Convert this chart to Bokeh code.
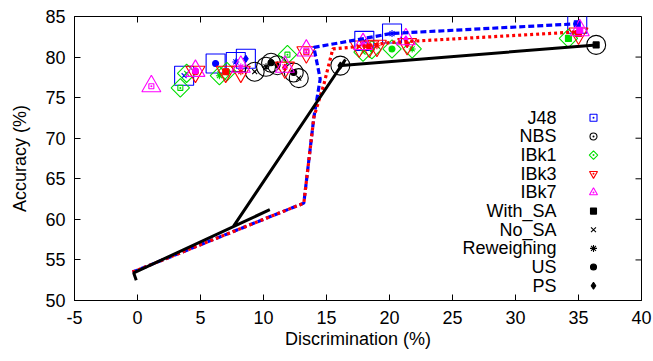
import math
from bokeh.plotting import figure
from bokeh.models import Range1d, FixedTicker
from bokeh.core.properties import value
from bokeh.embed import file_html
from bokeh.resources import INLINE

FONT = "Liberation Sans"

x_ticks = [-5, 0, 5, 10, 15, 20, 25, 30, 35, 40]
y_ticks = [50, 55, 60, 65, 70, 75, 80, 85]

# Trade-off curves (discrimination %, accuracy %)
nbs_curve_x = [-0.1, -0.3, 10.5, 7.6, 16.5, 16.2, 36.4]
nbs_curve_y = [52.5, 53.4, 61.2, 59.1, 79.7, 78.95, 81.5]
j48_curve_x = [-0.4, 13.2, 14.0, 14.5, 14.0, 17.3, 20.1, 34.9]
j48_curve_y = [53.5, 62.0, 72.6, 77.3, 81.2, 82.1, 82.9, 84.1]
ibk3_curve_x = [-0.4, 13.2, 14.0, 14.8, 15.5, 18.2, 20.1, 34.9]
ibk3_curve_y = [53.5, 62.0, 72.6, 76.7, 81.0, 81.4, 81.8, 83.1]

# Per-classifier results; tag = data handling method
j48_x = [3.7, 6.2, 7.8, 8.6, 18.0, 20.2, 34.9]
j48_y = [77.7, 79.2, 79.4, 79.8, 82.0, 82.9, 84.1]
j48_m = ["no", "us", "rw", "ps", "no", "rw", "sa"]

nbs_x = [9.3, 10.2, 10.6, 11.1, 12.4, 12.8, 16.1, 36.4]
nbs_y = [78.2, 78.8, 79.3, 79.0, 78.1, 77.4, 78.95, 81.5]
nbs_m = ["no", "rw", "us", "ps", "us", "no", "ps", "sa"]

ibk1_x = [3.4, 3.9, 6.5, 7.1, 11.9, 17.9, 18.6, 20.2, 21.8, 34.2]
ibk1_y = [76.2, 78.0, 77.7, 78.2, 80.3, 80.6, 80.9, 81.0, 81.0, 82.3]
ibk1_m = ["sq", "no", "rw", "us", "sq", "no", "ps", "us", "rw", "sa"]

ibk3_x = [4.6, 7.0, 8.2, 11.7, 13.4, 17.6, 18.4, 19.0, 21.4, 35.0]
ibk3_y = [78.2, 78.2, 78.2, 78.7, 80.6, 81.3, 81.3, 81.4, 81.6, 82.9]
ibk3_m = ["us", "sa", "rw", "ps", "sq", "no", "us", "rw", "ps", "sa"]

ibk7_x = [1.1, 4.6, 8.2, 11.7, 13.4, 17.9, 21.3, 35.1]
ibk7_y = [76.4, 78.3, 78.8, 78.8, 80.8, 81.6, 82.2, 83.3]
ibk7_m = ["sq", "us", "rw", "no", "sq", "rw", "ps", "sa"]

classifier_names = ["J48", "NBS", "IBk1", "IBk3", "IBk7"]
method_names = ["With_SA", "No_SA", "Reweighing", "US", "PS"]

X0, X1, Y0, Y1 = -5, 40, 50, 85

p = figure(width=653, height=361, x_range=Range1d(X0, X1), y_range=Range1d(Y0, Y1),
           output_backend="svg", toolbar_location=None,
           min_border_left=74, min_border_right=12, min_border_top=16, min_border_bottom=61)
p.xgrid.visible = False
p.ygrid.visible = False
p.outline_line_color = "black"
p.outline_line_width = 1
p.background_fill_color = "white"
p.border_fill_color = "white"


def style_axis(ax, ticks):
    ax.ticker = FixedTicker(ticks=ticks)
    ax.major_tick_in = 6
    ax.major_tick_out = 0
    ax.minor_tick_in = 0
    ax.minor_tick_out = 0
    ax.axis_line_color = "black"
    ax.major_tick_line_color = "black"
    ax.major_label_text_font = FONT
    ax.major_label_text_font_size = "18px"
    ax.major_label_text_color = "black"
    ax.axis_label_text_font = FONT
    ax.axis_label_text_font_size = "18px"
    ax.axis_label_text_font_style = "normal"
    ax.axis_label_text_color = "black"
    ax.major_label_overrides = {t: str(t) for t in ticks}


style_axis(p.xaxis[0], x_ticks)
style_axis(p.yaxis[0], y_ticks)
p.xaxis.axis_label = "Discrimination (%)"
p.yaxis.axis_label = "Accuracy (%)"
p.xaxis.major_label_standoff = 10
p.xaxis.axis_label_standoff = 2
p.yaxis.major_label_standoff = 9
p.yaxis.axis_label_standoff = 12

# mirrored inward ticks on the top and right edges
p.ray(x=x_ticks, y=[Y1] * len(x_ticks), length=6, length_units="screen",
      angle=-math.pi / 2, line_color="black", line_width=1)
p.ray(x=[X1] * len(y_ticks), y=y_ticks, length=6, length_units="screen",
      angle=math.pi, line_color="black", line_width=1)

BLUE, BLACK, GREEN, RED, MAGENTA = "#0000ff", "#000000", "#00dd00", "#ff0000", "#ff00ff"

# big classifier shape: (marker, size, angle)
shapes = {
    "J48": ("square", 19, 0.0),
    "NBS": ("circle", 19, 0.0),
    "IBk1": ("square", 13, math.pi / 4),
    "IBk3": ("inverted_triangle", 19, 0.0),
    "IBk7": ("triangle", 19, 0.0),
}
small_shapes = {
    "J48": ("square", 7, 0.0),
    "NBS": ("circle", 7, 0.0),
    "IBk1": ("square", 6, math.pi / 4),
    "IBk3": ("inverted_triangle", 8, 0.0),
    "IBk7": ("triangle", 8, 0.0),
}
# method tag: (marker, size, filled)
method_marks = {
    "sa": ("square", 6, True),
    "no": ("x", 7, False),
    "rw": ("asterisk", 7, False),
    "us": ("circle", 6, True),
    "ps": ("diamond", 7, True),
    "sq": ("square", 5, False),
}
method_tags = ["sa", "no", "rw", "us", "ps"]


def draw_classifier(xs, ys, ms, name, color):
    mk, sz, ang = shapes[name]
    p.scatter(xs, ys, marker=mk, size=sz, angle=ang, fill_color=None,
              line_color=color, line_width=1.1)
    p.scatter(xs, ys, marker="circle", size=2, fill_color=color, line_color=None)
    for tag, (m2, s2, filled) in method_marks.items():
        sx = [x for x, m in zip(xs, ms) if m == tag]
        sy = [y for y, m in zip(ys, ms) if m == tag]
        if not sx:
            continue
        p.scatter(sx, sy, marker=m2, size=s2, line_color=color, line_width=1.1,
                  fill_color=color if filled else None)


draw_classifier(j48_x, j48_y, j48_m, "J48", BLUE)
draw_classifier(nbs_x, nbs_y, nbs_m, "NBS", BLACK)
draw_classifier(ibk1_x, ibk1_y, ibk1_m, "IBk1", GREEN)
draw_classifier(ibk3_x, ibk3_y, ibk3_m, "IBk3", RED)
draw_classifier(ibk7_x, ibk7_y, ibk7_m, "IBk7", MAGENTA)

p.line(j48_curve_x, j48_curve_y, line_color=BLUE, line_width=3.2, line_dash="6 3")
p.line(ibk3_curve_x, ibk3_curve_y, line_color=RED, line_width=3.2, line_dash="3 3")
p.line(nbs_curve_x, nbs_curve_y, line_color=BLACK, line_width=3)

# key, labels on the left of their symbols
key_text_x = 33.25
key_mark_x = 36.19
key_y0 = 72.52
key_step = 2.30
labels = classifier_names + method_names
key_ys = [key_y0 - i * key_step for i in range(len(labels))]
p.text([key_text_x] * len(labels), key_ys, text=labels, text_align="right",
       text_baseline="middle", text_font=value(FONT), text_font_size="18px",
       text_color="black")

colors = [BLUE, BLACK, GREEN, RED, MAGENTA]
for i, (name, color) in enumerate(zip(classifier_names, colors)):
    mk, sz, ang = small_shapes[name]
    p.scatter([key_mark_x], [key_ys[i]], marker=mk, size=sz, angle=ang,
              fill_color=None, line_color=color, line_width=1.1)
    p.scatter([key_mark_x], [key_ys[i]], marker="circle", size=2,
              fill_color=color, line_color=None)
for j, tag in enumerate(method_tags):
    m2, s2, filled = method_marks[tag]
    p.scatter([key_mark_x], [key_ys[5 + j]], marker=m2, size=s2, line_color=BLACK,
              line_width=1.1, fill_color=BLACK if filled else None)

open("out.html", "w").write(file_html(p, INLINE))
